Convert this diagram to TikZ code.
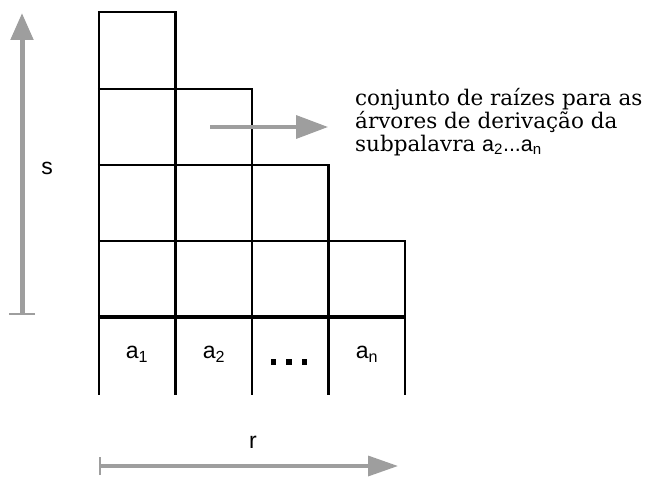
\documentclass[tikz,border=0pt]{standalone}
\usepackage{fontspec}
\setmainfont{DejaVu Serif}
\setsansfont{Liberation Sans}
\usetikzlibrary{arrows.meta}
\colorlet{shade}{black!38}
\tikzset{grid/.style={line width=2.2pt,draw=black},
  thickrule/.style={line width=3.8pt,draw=black},
  cell/.style={font=\sffamily\fontsize{23}{26}\selectfont,inner sep=0pt},
  scalearrow/.style={draw=shade,line width=5pt,
    arrows={Bar[width=26pt,line width=2pt]-Triangle[width=22pt,length=27pt]}},
  thinarrow/.style={draw=shade,line width=3.5pt,
    arrows={-Triangle[width=23pt,length=32pt]}},
  note/.style={font=\fontsize{21.5}{23}\selectfont,align=left,inner sep=0pt}}
\newcommand{\dotsq}{\rule{5.5pt}{5.5pt}}

\begin{document}
\begin{tikzpicture}[x=1pt,y=-1pt]
\useasboundingbox (0,0) rectangle (652,476);
% staircase of cells
\foreach \c/\t in {0/12,1/12,2/89,3/165,4/241}
  \draw[grid] (99+76.5*\c,\t) -- (99+76.5*\c,395);
\foreach \r/\e in {12/1,89/2,165/3,241/4}
  \draw[grid] (99-1.1,\r) -- (99+76.5*\e+1.1,\r);
\draw[thickrule] (99-1.1,317) -- (405+1.1,317);
% word symbols
\node[cell] (a1) at (137,354) {a\textsubscript{1}};
\node[cell] (a2) at (214,354) {a\textsubscript{2}};
\node[cell] (dots) at (289,362) {\dotsq\hspace{10pt}\dotsq\hspace{10pt}\dotsq};
\node[cell] (an) at (367,354) {a\textsubscript{n}};
% height s
\coordinate (sbot) at (22,315);
\coordinate (stop) at (22,13);
\draw[scalearrow] (sbot) -- (stop);
\node[cell] (s) at (47,168) {s};
% width r
\coordinate (rleft) at (99,466);
\coordinate (rright) at (398,466);
\draw[draw=shade,line width=3.5pt,
  arrows={Bar[width=18pt,line width=2pt]-Triangle[width=20pt,length=30pt]}] (rleft) -- (rright);
\node[cell] (r) at (253,442) {r};
% roots of the subword
\coordinate (pfrom) at (210,127);
\coordinate (pto) at (328,127);
\draw[thinarrow] (pfrom) -- (pto);
\node[note,anchor=north west] (roots) at (355,88)
  {conjunto de raízes para as\\árvores de derivação da\\subpalavra {\sffamily a\textsubscript{2}...a\textsubscript{n}}};
\end{tikzpicture}
\end{document}
